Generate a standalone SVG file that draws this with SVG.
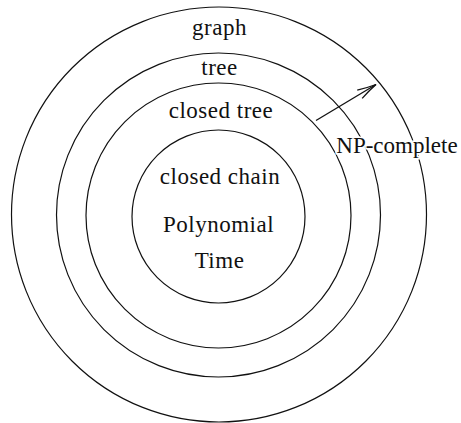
<svg xmlns="http://www.w3.org/2000/svg" width="461" height="423" viewBox="0 0 461 423">
  <style>
    .ring { fill: none; stroke: #111; stroke-width: 1.2; }
    .lbl { font-family: "Liberation Serif", "Times New Roman", serif; font-size: 23px; fill: #111; text-anchor: middle; letter-spacing: 0.5px; }
    .halo { paint-order: stroke; stroke: #fff; stroke-width: 3; letter-spacing: 0; }
    .conn { fill: none; stroke: #111; stroke-width: 1.3; }
  </style>
  <defs>
    <marker id="open" markerUnits="userSpaceOnUse" markerWidth="24" markerHeight="14" viewBox="-21 -7 24 14" refX="0" refY="0" orient="auto" overflow="visible">
      <path d="M-19,-4.8 Q-9,-1.6 0,0 M-19,4.8 Q-9,1.6 0,0" fill="none" stroke="#111" stroke-width="1.3"/>
    </marker>
  </defs>
  <rect width="461" height="423" fill="#fff"/>
  <g id="graph">
    <circle class="ring" cx="219" cy="214.5" r="207.5"/>
    <text class="lbl" x="219.5" y="35">graph</text>
  </g>
  <g id="tree">
    <circle class="ring" cx="218.5" cy="215" r="162"/>
    <text class="lbl" x="219.5" y="75">tree</text>
  </g>
  <g id="closed-tree">
    <circle class="ring" cx="218.5" cy="215.5" r="132.5"/>
    <text class="lbl" x="221" y="118">closed tree</text>
  </g>
  <g id="closed-chain">
    <circle class="ring" cx="218.5" cy="216.5" r="86.5"/>
    <text class="lbl" x="220" y="184">closed chain</text>
    <text class="lbl" x="218.5" y="232">Polynomial</text>
    <text class="lbl" x="219.5" y="268">Time</text>
  </g>
  <g id="connectors">
    <line class="conn" x1="316" y1="120.5" x2="376" y2="84.5" marker-end="url(#open)"/>
  </g>
  <g id="np-complete">
    <text class="lbl halo" x="397" y="153">NP-complete</text>
  </g>
</svg>
